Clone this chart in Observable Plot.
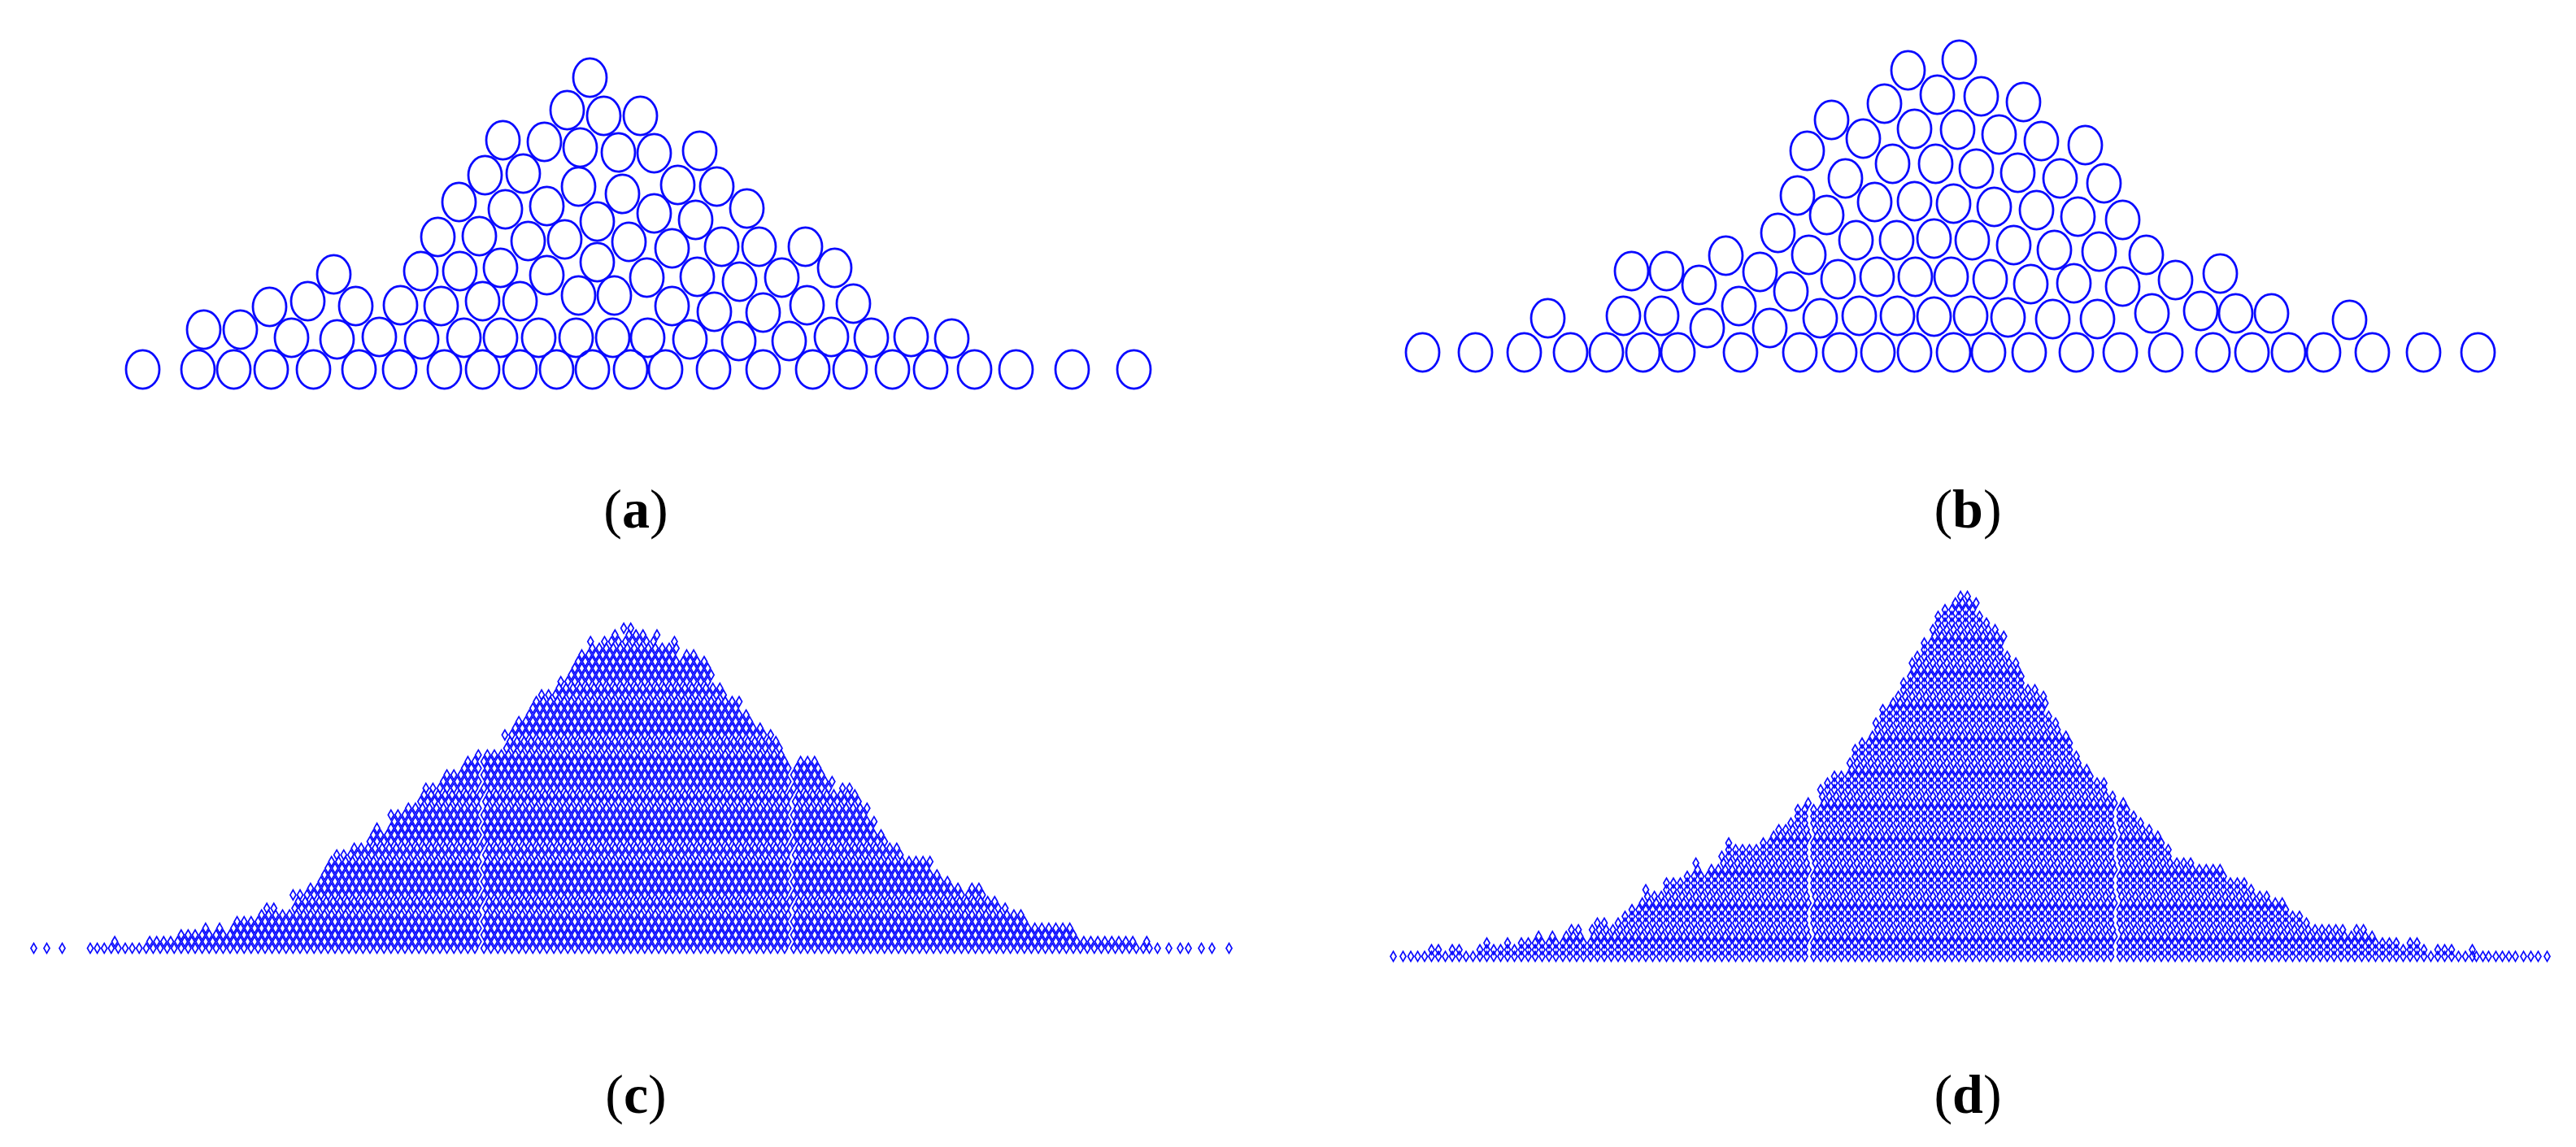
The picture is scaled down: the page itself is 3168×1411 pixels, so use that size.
<!DOCTYPE html>
<html>
<head>
<meta charset="utf-8">
<script src="https://cdn.jsdelivr.net/npm/d3@7"></script>
<script src="https://cdn.jsdelivr.net/npm/@observablehq/plot@0.6"></script>
<style>
html,body{margin:0;padding:0;background:#fff;}
#fig{display:grid;width:3168px;grid-template-columns:1584px 1584px;grid-template-rows:560px 132px 588px 131px;}
#fig svg{display:block;}
.cap{font-family:"Liberation Serif",serif;font-size:68px;color:#000;text-align:center;line-height:1;align-self:center;}
.cap.l{transform:translateX(-10px);}
.cap.r{transform:translateX(44px);}
</style>
</head>
<body>
<div id="fig"></div>
<script>
// Panel (a): circle positions along the value axis and heights above the baseline
const aValues = [175,243,287,333,385,441,491,546,593,639,684,728,775,818,877,938,999,1045,1097,1144,1198,1249,1318,1394,
  250,295,
  358,414,466,518,570,615,662,708,753,796,848,908,970,1022,1071,1120,1170,
  331,378,437,492,542,593,639,711,755,826,878,938,992,1049,
  410,517,565,615,672,734,795,857,909,961,1026,
  538,589,649,694,773,826,887,933,990,
  734,564,621,672,711,765,804,855,918,833,881,
  596,643,618,669,713,760,804,860,697,742,787,725];
const aHeights = [0,0,0,0,0,0,0,0,0,0,0,0,0,0,0,0,0,0,0,0,0,0,0,0,
  49,49,
  39,37,40,37,39,39,39,39,39,39,37,35,35,40,39,40,38,
  77,84,78,79,78,84,84,91,91,78,71,70,79,81,
  117,121,121,125,116,132,113,114,108,113,125,
  163,164,158,160,157,149,151,151,151,
  182,206,197,201,225,216,192,184,198,227,225,
  239,241,282,280,273,267,266,269,319,312,312,359];

// Panel (b)
const bValues = [1749,1814,1874,1931,1975,2020,2063,2140,2213,2262,2309,2354,2402,2445,2495,2553,2607,2663,2721,2769,2814,2857,2917,2980,3047,
  1903,1996,2043,2099,2138,2176,2202,2238,2286,2333,2378,2423,2469,2524,2579,2646,2706,2749,2793,2889,
  2006,2049,2089,2122,2164,2224,2260,2308,2355,2399,2447,2497,2550,2610,2675,2730,
  2186,2246,2282,2332,2378,2425,2476,2526,2581,2639,
  2210,2305,2354,2269,2327,2380,2402,2452,2504,2555,2610,2430,2481,2533,2587,
  2222,2252,2291,2354,2317,2346,2407,2458,2510,2564,2382,2436,2488,2409];
const bHeights = [0,0,0,0,0,0,0,0,0,0,0,0,0,0,0,0,0,0,0,0,0,0,0,0,0,
  42,45,45,30,57,30,75,42,45,45,44,45,43,41,41,48,51,48,48,40,
  100,100,83,119,99,120,90,93,93,93,90,84,85,81,89,97,
  147,169,138,138,140,138,132,126,124,120,
  193,185,186,214,232,232,183,179,175,167,163,226,221,214,208,
  248,286,263,275,306,347,274,268,260,255,317,315,308,360];

// Panel (c): single outliers, then the number of stacked diamonds in each column
const cSingles = [41,57,76,1413,1423,1437,1451,1461,1477,1490,1511];
const cFirstColumn = 113;
const cColumnStep = 8.6;
const cCounts = [1,1,1,2,1,1,1,1,2,2,2,2,2,3,3,3,4,3,4,3,4,5,5,5,6,7,7,6,6,9,9,10,10,12,14,15,15,16,16,16,18,19,18,21,21,22,22,24,25,25,26,27,27,28,29,30,30,30,30,33,34,35,36,38,39,39,40,41,42,44,45,47,46,47,48,47,49,49,48,47,48,46,46,47,44,45,45,44,43,40,39,38,38,36,35,34,33,33,31,29,28,29,29,29,27,26,24,25,25,23,22,20,18,17,16,15,14,14,14,14,12,11,11,10,9,10,10,9,8,7,7,6,6,5,4,4,4,4,4,4,3,2,2,2,2,2,2,2,2,1,2];
const cLevelShifts = [0, 0.5, 0, 0.5, 0, 0.5, 0.25, 0.75];
const cGapsAfter = [592, 968];

// Panel (d)
const dSingles = [1713,1725,3045,3053,3060,3069,3077,3085,3093,3103,3112,3121,3132];
const dFirstColumn = 1737;
const dColumnStep = 8.5;
const dCounts = [1,1,1,2,2,1,2,2,1,1,2,3,2,2,3,2,3,3,4,3,4,3,4,5,5,3,5,6,6,5,6,7,8,9,11,10,10,12,12,12,13,15,13,14,14,16,18,17,17,17,17,18,19,20,20,21,23,24,23,26,27,28,28,30,32,33,34,36,38,39,40,42,45,46,48,50,52,53,54,55,55,54,52,51,50,49,46,45,43,41,41,40,37,36,34,33,31,29,28,27,27,25,24,23,22,21,20,19,18,17,15,15,15,14,14,14,14,13,12,12,12,11,10,10,9,9,8,7,7,6,5,5,5,5,5,4,5,5,4,3,3,3,3,2,3,3,2,1,2,2,2,1,1,2];
const dLevelShifts = [0, 0, 0, 0.5, 0.25];
const dGapsAfter = [2225, 2597];

const labels = ["a","b","c","d"];

const BLUE = "#0a0aff";

// A ring slightly taller than it is wide
const ring = {
  draw(ctx, size) {
    const r = Math.sqrt(size / Math.PI), rx = r, ry = r * 1.15, k = 0.5523;
    ctx.moveTo(rx, 0);
    ctx.bezierCurveTo(rx, k * ry, k * rx, ry, 0, ry);
    ctx.bezierCurveTo(-k * rx, ry, -rx, k * ry, -rx, 0);
    ctx.bezierCurveTo(-rx, -k * ry, -k * rx, -ry, 0, -ry);
    ctx.bezierCurveTo(k * rx, -ry, rx, -k * ry, rx, 0);
    ctx.closePath();
  }
};

function ringPanel(values, heights, xDomain, yDomain, h) {
  const data = values.map((v, i) => ({v, h: heights[i]}));
  return Plot.plot({
    width: 1584, height: h, margin: 0,
    x: {domain: xDomain, range: [0, 1584], axis: null},
    y: {domain: yDomain, range: [h, 0], axis: null},
    marks: [Plot.dot(data, {x: "v", y: "h", r: 20.5, symbol: ring, stroke: BLUE, strokeWidth: 2.8, fill: "none"})]
  });
}

function stackPanel(singles, first, step, counts, shifts, gaps, xDomain, yDomain, h) {
  const data = singles.map(v => ({v, level: 0}));
  counts.forEach((n, i) => {
    const x = first + i * step;
    const gap = gaps.filter(g => x > g).length * 2.5 - 2.5;
    for (let level = 0; level < n; level++) {
      data.push({v: x + gap + shifts[level % shifts.length] * step, level});
    }
  });
  return Plot.plot({
    width: 1584, height: h, margin: 0,
    x: {domain: xDomain, range: [0, 1584], axis: null},
    y: {domain: yDomain, range: [h, 0], axis: null},
    marks: [Plot.dot(data, {x: "v", y: "level", r: 3.7, symbol: "diamond", stroke: BLUE, strokeWidth: 1.7, fill: "none"})]
  });
}

function caption(letter, side) {
  const d = document.createElement("div");
  d.className = "cap " + side;
  d.innerHTML = "(<b>" + letter + "</b>)";
  return d;
}

const fig = document.getElementById("fig");
fig.append(
  ringPanel(aValues, aHeights, [0, 1584], [-106, 454], 560),
  ringPanel(bValues, bHeights, [1584, 3168], [-127, 433], 560),
  caption(labels[0], "l"), caption(labels[1], "r"),
  stackPanel(cSingles, cFirstColumn, cColumnStep, cCounts, cLevelShifts, cGapsAfter, [0, 1584], [-13.9, 57.8], 588),
  stackPanel(dSingles, dFirstColumn, dColumnStep, dCounts, dLevelShifts, dGapsAfter, [1584, 3168], [-12.68, 59.02], 588),
  caption(labels[2], "l"), caption(labels[3], "r")
);
</script>
</body>
</html>
